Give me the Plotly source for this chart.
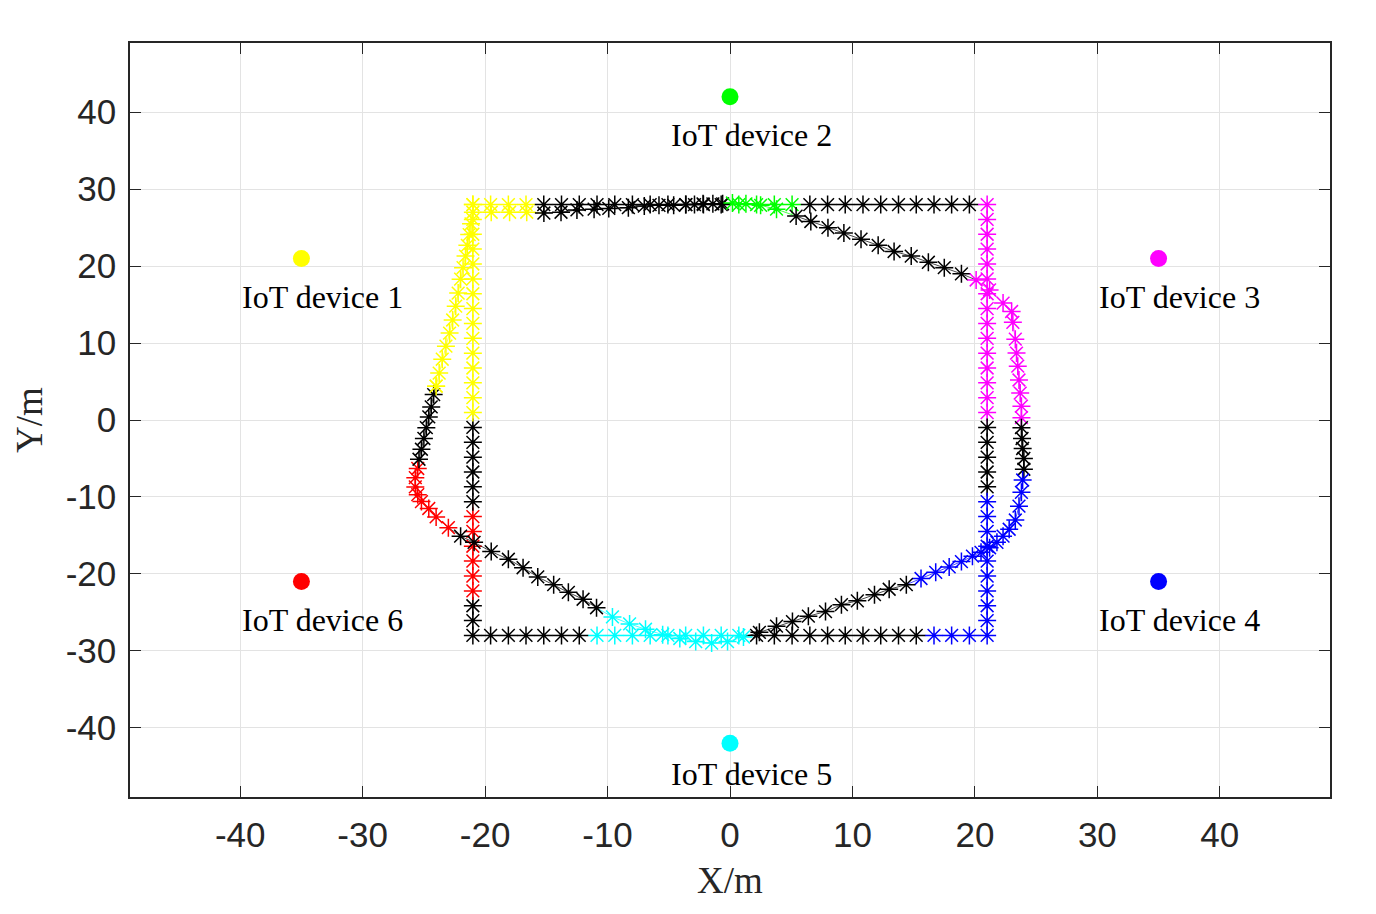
import plotly.graph_objects as go

# IoT devices
dev_names = ["IoT device 1", "IoT device 2", "IoT device 3", "IoT device 4", "IoT device 5", "IoT device 6"]
dev_x = [-35, 0, 35, 35, 0, -35]
dev_y = [21, 42, 21, -21, -42, -21]
label_x = [-40, -5, 30, 30, -5, -40]
label_y = [16, 37, 16, -26, -46, -26]
dev_colors = ["#ffff00", "#00ff00", "#ff00ff", "#0000ff", "#00ffff", "#ff0000"]

# Rectangular trajectory (serving device id per point, 0 = none)
rect_x = [-21, -19.55, -18.1, -16.66, -15.21, -13.76, -12.31, -10.86, -9.41, -7.97, -6.52, -5.07, -3.62, -2.17, -0.72,
          0.72, 2.17, 3.62, 5.07, 6.52, 7.97, 9.41, 10.86, 12.31, 13.76, 15.21, 16.66, 18.1, 19.55,
          21, 21, 21, 21, 21, 21, 21, 21, 21, 21, 21, 21, 21, 21, 21, 21, 21, 21, 21, 21, 21, 21, 21, 21, 21, 21, 21, 21, 21,
          21, 19.55, 18.1, 16.66, 15.21, 13.76, 12.31, 10.86, 9.41, 7.97, 6.52, 5.07, 3.62, 2.17, 0.72,
          -0.72, -2.17, -3.62, -5.07, -6.52, -7.97, -9.41, -10.86, -12.31, -13.76, -15.21, -16.66, -18.1, -19.55,
          -21, -21, -21, -21, -21, -21, -21, -21, -21, -21, -21, -21, -21, -21, -21, -21, -21, -21, -21, -21, -21, -21, -21, -21, -21, -21, -21, -21, -21,
          -21]
rect_y = [28, 28, 28, 28, 28, 28, 28, 28, 28, 28, 28, 28, 28, 28, 28, 28, 28, 28, 28, 28, 28, 28, 28, 28, 28, 28, 28, 28, 28,
          28, 26.07, 24.14, 22.21, 20.28, 18.34, 16.41, 14.48, 12.55, 10.62, 8.69, 6.76, 4.83, 2.9, 0.97,
          -0.97, -2.9, -4.83, -6.76, -8.69, -10.62, -12.55, -14.48, -16.41, -18.34, -20.28, -22.21, -24.14, -26.07,
          -28, -28, -28, -28, -28, -28, -28, -28, -28, -28, -28, -28, -28, -28, -28, -28, -28, -28, -28, -28, -28, -28, -28, -28, -28, -28, -28, -28, -28,
          -28, -26.07, -24.14, -22.21, -20.28, -18.34, -16.41, -14.48, -12.55, -10.62, -8.69, -6.76, -4.83, -2.9, -0.97,
          0.97, 2.9, 4.83, 6.76, 8.69, 10.62, 12.55, 14.48, 16.41, 18.34, 20.28, 22.21, 24.14, 26.07,
          28]
rect_dev = [1] * 4 + [0] * 11 + [2] * 4 + [0] * 10 + \
           [3] * 15 + [0] * 5 + [4] * 9 + \
           [4] * 4 + [0] * 10 + [5] * 9 + [0] * 6 + \
           [0] * 3 + [6] * 6 + [0] * 6 + [1] * 14 + [1]

# Optimised trajectory
opt_x = [-24.0, -23.75, -23.5, -23.2, -22.9, -22.65, -22.4, -22.2, -22.0, -21.8, -21.6, -21.45, -21.3, -21.15, -21.0, -19.5, -18.0, -16.6,
         -15.2, -13.8, -12.5, -11.1, -9.9, -8.3, -7.0, -5.8, -4.6, -3.6, -2.9, -2.2, -1.4, -0.6,
         0.2, 1.3, 2.5, 3.8,
         5.4, 6.6, 8.0, 9.3, 10.7, 12.1, 13.4, 14.8, 16.2, 17.5, 18.9,
         20.1, 21.2, 22.3, 23.0, 23.1, 23.3, 23.4, 23.5, 23.6, 23.7, 23.8, 23.8,
         23.8, 23.85, 23.9, 24.0, 24.0,
         23.9, 23.8, 23.6, 23.3, 22.8, 22.3, 21.8, 21.2, 20.5, 19.8, 18.9, 17.9, 16.8, 15.6,
         14.4, 13.0, 11.8, 10.4, 9.1, 7.8, 6.4, 5.1, 3.8, 2.4,
         1.1, -0.2, -1.5, -2.8, -4.1, -5.5, -6.9, -8.2, -9.6,
         -10.9, -12.0, -13.2, -14.4, -15.7, -16.9, -18.1, -19.5, -20.9, -22.0,
         -23.0, -24.0, -24.6, -25.2, -25.5, -25.7, -25.7, -25.5,
         -25.4, -25.2, -25.0, -24.8, -24.6, -24.4, -24.2,
         -24.0]
opt_y = [4.4, 6.1, 7.9, 9.6, 11.3, 13.0, 14.8, 16.5, 18.3, 19.8, 21.3, 22.7, 24.1, 25.5, 27.0, 27.0, 27.0, 27.0,
         26.9, 27.0, 27.3, 27.4, 27.5, 27.6, 27.8, 27.9, 27.9, 28.0, 28.0, 28.1, 28.1, 28.1,
         28.2, 28.1, 27.9, 27.4,
         26.5, 25.8, 25.0, 24.3, 23.5, 22.7, 21.9, 21.3, 20.5, 19.8, 19.0,
         18.2, 16.9, 15.2, 14.1, 12.7, 10.5, 8.7, 7.0, 5.2, 3.5, 1.8, 0.3,
         -1.0, -2.4, -3.7, -5.0, -6.4,
         -7.8, -9.4, -11.2, -13.0, -14.2, -15.1, -15.9, -16.6, -17.2, -17.7, -18.4, -19.1, -19.8, -20.6,
         -21.4, -22.0, -22.7, -23.5, -24.0, -24.9, -25.5, -26.2, -26.8, -27.6,
         -28.2, -28.8, -29.0, -28.8, -28.4, -27.9, -27.2, -26.5, -25.6,
         -24.4, -23.3, -22.4, -21.4, -20.4, -19.2, -18.1, -17.1, -15.9, -15.1,
         -14.0, -12.6, -11.5, -10.6, -9.7, -8.7, -7.5, -6.3,
         -5.1, -3.8, -2.4, -1.0, 0.4, 1.7, 3.3,
         4.4]
opt_dev = [1] * 18 + [0] * 14 + [2] * 4 + [0] * 11 + [3] * 12 + [0] * 5 + [4] * 14 + [0] * 10 + \
          [5] * 9 + [0] * 10 + [6] * 8 + [0] * 7 + [1]

x_ticks = [-40, -30, -20, -10, 0, 10, 20, 30, 40]
y_ticks = [-40, -30, -20, -10, 0, 10, 20, 30, 40]


def color_of(d):
    return "#000000" if d == 0 else dev_colors[d - 1]


fig = go.Figure()


def add_path(xs, ys, ds):
    n = len(xs)
    start = 0
    while start < n:
        end = start
        while end + 1 < n and ds[end + 1] == ds[start]:
            end += 1
        c = color_of(ds[start])
        last = min(end + 1, n - 1)
        fig.add_trace(go.Scatter(x=xs[start:last + 1], y=ys[start:last + 1], mode="lines",
                                 line=dict(color=c, width=1), opacity=0.7, showlegend=False, hoverinfo="skip"))
        fig.add_trace(go.Scatter(x=xs[start:end + 1], y=ys[start:end + 1], mode="markers",
                                 marker=dict(symbol="asterisk-open", size=15, color=c,
                                             line=dict(color=c, width=1.5)),
                                 showlegend=False))
        start = end + 1


add_path(rect_x, rect_y, rect_dev)
add_path(opt_x, opt_y, opt_dev)

fig.add_trace(go.Scatter(x=dev_x, y=dev_y, mode="markers",
                         marker=dict(symbol="circle", size=17, color=dev_colors, line=dict(width=0)),
                         showlegend=False))

for name, lx, ly in zip(dev_names, label_x, label_y):
    fig.add_annotation(x=lx, y=ly, text=name, showarrow=False, xanchor="left", yanchor="middle",
                       font=dict(family="Liberation Serif, Times New Roman, serif", size=32, color="#000000"))

axis_common = dict(
    showgrid=True, gridcolor="#e3e3e3", gridwidth=1,
    showline=True, linecolor="#262626", linewidth=1.5, mirror="allticks",
    ticks="inside", ticklen=11, tickcolor="#262626", tickwidth=1,
    zeroline=False,
    tickfont=dict(family="Liberation Sans, Arial, sans-serif", size=35, color="#262626"),
)

fig.update_xaxes(range=[-49, 49], tickvals=x_ticks, ticktext=[str(v) for v in x_ticks],
                 ticklabelstandoff=6,
                 title=dict(text="X/m", font=dict(family="Liberation Serif, Times New Roman, serif", size=37, color="#262626"),
                            standoff=14),
                 **axis_common)
fig.update_yaxes(range=[-49, 49], tickvals=y_ticks, ticktext=[str(v) for v in y_ticks],
                 ticklabelstandoff=5,
                 title=dict(text="Y/m", font=dict(family="Liberation Serif, Times New Roman, serif", size=37, color="#262626"),
                            standoff=12),
                 **axis_common)

fig.update_layout(
    width=1376, height=914,
    margin=dict(l=130, r=46, t=43, b=117),
    paper_bgcolor="#ffffff", plot_bgcolor="#ffffff",
    showlegend=False,
)

fig.write_html("out.html")
